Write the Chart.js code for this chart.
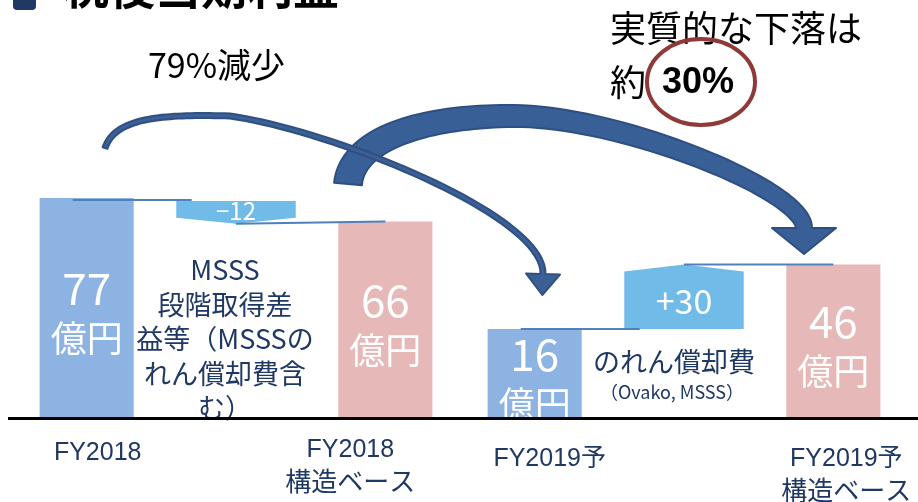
<!DOCTYPE html>
<html>
<head>
<meta charset="utf-8">
<script src="https://cdn.jsdelivr.net/npm/chart.js@4.4.1/dist/chart.umd.min.js"></script>
<style>
  html, body { margin: 0; padding: 0; background: #fff; }
  #wrap { width: 918px; height: 502px; }
</style>
</head>
<body>
<div id="wrap"><canvas id="bridge" width="918" height="502"></canvas></div>
<script>
// 税後当期利益 bridge, values in 億円
var categories = [['FY2018'], [], ['FY2018', '構造ベース'], ['FY2019予'], [], ['FY2019予', '構造ベース']];
var totals = [77, null, 66, 16, null, 46];
var changes = [null, -12, null, null, 30, null];
var totalColors = ['#8db3e2', null, '#e6b8b7', '#8db3e2', null, '#e6b8b7'];
var changeNotes = [null, ['MSSS', '段階取得差', '益等（MSSSの', 'れん償却費含', 'む）'], null, null, ['のれん償却費', '（Ovako, MSSS）'], null];
var unit = '億円';
var title = '税後当期利益';
var dropNote = '79%減少';
var realNote = ['実質的な下落は', '約', '30%'];

var Y_MIN = -25, Y_MAX = 90;
var NAVY = '#203864';
var JP = "'Noto Sans CJK JP', 'Noto Sans', sans-serif";

// each change floats from the previous total
var changeData = changes.map(function (c, i) {
  if (c === null) return null;
  var from = totals[i - 1];
  return [from, from + c];
});

function bez(p, t) {
  var u = 1 - t;
  return {
    x: u*u*u*p[0][0] + 3*u*u*t*p[1][0] + 3*u*t*t*p[2][0] + t*t*t*p[3][0],
    y: u*u*u*p[0][1] + 3*u*u*t*p[1][1] + 3*u*t*t*p[2][1] + t*t*t*p[3][1]
  };
}
function bezDir(p, t) {
  var u = 1 - t;
  var dx = 3*u*u*(p[1][0]-p[0][0]) + 6*u*t*(p[2][0]-p[1][0]) + 3*t*t*(p[3][0]-p[2][0]);
  var dy = 3*u*u*(p[1][1]-p[0][1]) + 6*u*t*(p[2][1]-p[1][1]) + 3*t*t*(p[3][1]-p[2][1]);
  var l = Math.sqrt(dx*dx + dy*dy) || 1;
  return { x: dx / l, y: dy / l };
}

// curved arrow built from bezier segments, shaft tapering from w0 to w1
function drawArrow(ctx, segs, w0, w1, headW, headLen, fill, edge) {
  var left = [], right = [], N = 40, last, lastDir;
  segs.forEach(function (p, si) {
    for (var i = (si ? 1 : 0); i <= N; i++) {
      var t = i / N, s = (si + t) / segs.length;
      var pt = bez(p, t), d = bezDir(p, t), w = w0 + (w1 - w0) * s;
      left.push([pt.x - d.y * w, pt.y + d.x * w]);
      right.push([pt.x + d.y * w, pt.y - d.x * w]);
      last = pt; lastDir = d;
    }
  });
  ctx.beginPath();
  ctx.moveTo(left[0][0], left[0][1]);
  left.forEach(function (q) { ctx.lineTo(q[0], q[1]); });
  ctx.lineTo(last.x - lastDir.y * headW, last.y + lastDir.x * headW);
  ctx.lineTo(last.x + lastDir.x * headLen, last.y + lastDir.y * headLen);
  ctx.lineTo(last.x + lastDir.y * headW, last.y - lastDir.x * headW);
  for (var k = right.length - 1; k >= 0; k--) ctx.lineTo(right[k][0], right[k][1]);
  ctx.closePath();
  ctx.fillStyle = fill;
  ctx.fill();
  ctx.lineWidth = 2;
  ctx.lineJoin = 'round';
  ctx.strokeStyle = edge;
  ctx.stroke();
}

var bridgeDecor = {
  id: 'bridgeDecor',
  afterDatasetsDraw: function (chart) {
    var ctx = chart.ctx, ys = chart.scales.y, area = chart.chartArea;
    var tMeta = chart.getDatasetMeta(0), cMeta = chart.getDatasetMeta(1);
    ctx.save();

    // change blocks with chevron edge
    changes.forEach(function (c, i) {
      if (c === null) return;
      var el = cMeta.data[i];
      var l = el.x - el.width / 2, r = el.x + el.width / 2;
      var yFrom = ys.getPixelForValue(changeData[i][0]);
      var yTo = ys.getPixelForValue(changeData[i][1]);
      ctx.beginPath();
      if (c < 0) {
        var top = yFrom + 3, notch = 6;
        ctx.moveTo(l, top); ctx.lineTo(r, top); ctx.lineTo(r, yTo - notch);
        ctx.lineTo(el.x, yTo); ctx.lineTo(l, yTo - notch);
      } else {
        var notch2 = 7;
        ctx.moveTo(l, yFrom); ctx.lineTo(r, yFrom); ctx.lineTo(r, yTo + notch2);
        ctx.lineTo(el.x, yTo); ctx.lineTo(l, yTo + notch2);
      }
      ctx.closePath();
      ctx.fillStyle = '#71bbe8';
      ctx.fill();

      ctx.fillStyle = '#fff';
      ctx.textAlign = 'center';
      ctx.textBaseline = 'middle';
      ctx.font = (c < 0 ? '24px ' : '34px ') + JP;
      var txt = (c < 0 ? '−' : '+') + Math.abs(c);
      ctx.fillText(txt, el.x, (yFrom + yTo) / 2 + (c < 0 ? 0 : 4));

      // connector lines
      var prev = tMeta.data[i - 1], next = tMeta.data[i + 1];
      var yNext = ys.getPixelForValue(totals[i + 1]);
      var yLine = c < 0 ? yFrom + 2 : yFrom;
      ctx.strokeStyle = '#4f81bd';
      ctx.lineWidth = 2;
      ctx.beginPath();
      ctx.moveTo(prev.x - 14, yLine); ctx.lineTo(prev.x + 105, yLine);
      ctx.moveTo(el.x, yTo); ctx.lineTo(next.x, yNext);
      ctx.stroke();

      // notes under the blocks
      var note = changeNotes[i];
      ctx.fillStyle = NAVY;
      if (c < 0) {
        ctx.font = '27px ' + JP;
        note.forEach(function (line, k) { ctx.fillText(line, el.x - 11, 270 + k * 34.5); });
      } else {
        ctx.font = '27px ' + JP;
        ctx.fillText(note[0], el.x - 10, 362);
        ctx.font = '18px ' + JP;
        ctx.fillText(note[1], el.x - 12, 392);
      }
    });

    // value labels inside the total bars
    totals.forEach(function (v, i) {
      if (v === null) return;
      var el = tMeta.data[i];
      var top = ys.getPixelForValue(v), bottom = area.bottom;
      var mid = (top + bottom) / 2 + 6;
      ctx.save();
      ctx.beginPath();
      ctx.rect(el.x - el.width / 2, top, el.width, bottom - top);
      ctx.clip();
      ctx.fillStyle = '#fff';
      ctx.textAlign = 'center';
      ctx.textBaseline = 'middle';
      ctx.font = '44px ' + JP;
      ctx.fillText(String(v), el.x, mid - 25);
      ctx.font = '36px ' + JP;
      ctx.fillText(unit, el.x, mid + 25);
      ctx.restore();
    });
    ctx.restore();
  },
  afterDraw: function (chart) {
    var ctx = chart.ctx, area = chart.chartArea;
    var tMeta = chart.getDatasetMeta(0);
    ctx.save();

    // baseline
    ctx.fillStyle = '#000';
    ctx.fillRect(8, area.bottom, 910, 3);

    // category labels
    var labelTop = [453, 0, 450, 459, 0, 459];
    var labelShift = [11, 0, -35, 15, 0, 13];
    ctx.fillStyle = NAVY;
    ctx.textAlign = 'center';
    ctx.textBaseline = 'middle';
    categories.forEach(function (lines, i) {
      if (!lines.length) return;
      var x = tMeta.data[i].x + labelShift[i];
      lines.forEach(function (line, k) {
        ctx.font = (k ? '26px ' : "25px 'Liberation Sans', ") + JP;
        ctx.fillText(line, x, labelTop[i] + k * 31);
      });
    });

    // heading, cut off at the top edge
    ctx.fillStyle = '#1f3864';
    ctx.beginPath();
    ctx.roundRect(13, -15, 23, 25, 4);
    ctx.fill();
    ctx.fillStyle = '#000';
    ctx.textAlign = 'left';
    ctx.textBaseline = 'alphabetic';
    ctx.font = 'bold 46px ' + JP;
    ctx.fillText(title, 63, 4);

    // notes
    ctx.textBaseline = 'middle';
    ctx.font = '34px ' + JP;
    ctx.fillText(dropNote, 148, 65);
    ctx.font = '36px ' + JP;
    ctx.fillText(realNote[0], 610, 28);
    ctx.fillText(realNote[1], 610, 82);
    ctx.font = "bold 36px 'Liberation Sans', sans-serif";
    ctx.fillText(realNote[2], 662, 83);
    ctx.strokeStyle = '#8f3a38';
    ctx.lineWidth = 4;
    ctx.beginPath();
    ctx.ellipse(701, 82, 54, 43, 0, 0, Math.PI * 2);
    ctx.stroke();

    // big arrow FY2018 構造ベース -> FY2019予 構造ベース
    drawArrow(ctx, [
      [[348, 184], [352, 140], [420, 116], [514, 116]],
      [[514, 116], [620, 116], [804, 190], [804, 228]]
    ], 14, 8, 32, 26, '#395f97', '#2d4f82');

    // thin arrow FY2018 -> FY2019予
    drawArrow(ctx, [
      [[105, 148], [115, 118], [160, 114], [230, 116]],
      [[230, 116], [330, 130], [545, 215], [543, 274]]
    ], 2.5, 2.5, 17, 21, '#3b6097', '#2f5080');

    ctx.restore();
  }
};

new Chart(document.getElementById('bridge'), {
  type: 'bar',
  data: {
    labels: categories.map(function (c) { return c.join(' '); }),
    datasets: [
      { label: '利益', data: totals, base: Y_MIN, backgroundColor: totalColors,
        barPercentage: 0.63, categoryPercentage: 1, grouped: false },
      { label: '増減', data: changeData, backgroundColor: 'rgba(0,0,0,0)',
        barPercentage: 0.8, categoryPercentage: 1, grouped: false }
    ]
  },
  options: {
    responsive: false,
    devicePixelRatio: 1,
    animation: false,
    events: [],
    layout: { padding: { left: 12, right: 10, top: 170, bottom: 85 } },
    scales: {
      x: { display: false },
      y: { display: false, min: Y_MIN, max: Y_MAX }
    },
    plugins: { legend: { display: false }, tooltip: { enabled: false } }
  },
  plugins: [bridgeDecor]
});
</script>
</body>
</html>
